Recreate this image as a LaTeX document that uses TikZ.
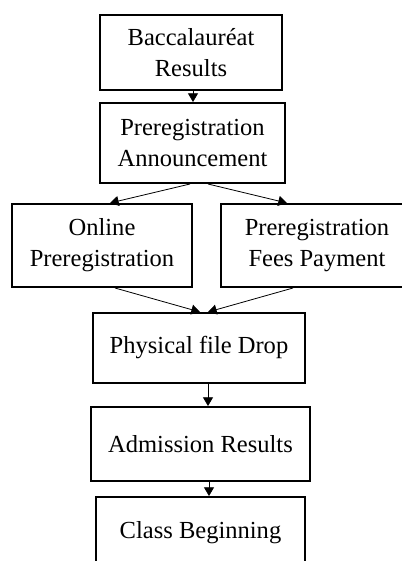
\documentclass[tikz,border=0pt]{standalone}
\usepackage{fontspec}
\setmainfont{Liberation Serif}
\usetikzlibrary{arrows.meta,calc}

\begin{document}
\begin{tikzpicture}[x=0.75pt,y=0.75pt,yscale=-1,xscale=1]
\tikzset{
  stepbox/.style={draw, line width=1.5pt, align=center, inner sep=0pt,
    font=\fontsize{18.4}{23.25}\selectfont},
  flow/.style={line width=0.6pt, -{Triangle[width=7.5pt,length=6.5pt]}}
}
\clip (0,0) rectangle (402,561); %set diagram area 402 x 561

%Shape: Rectangle [id:bac]
\node [stepbox, minimum width=136.5pt, minimum height=56.25pt] (bac) at (191,52.5) {Baccalauréat\\Results};
%Shape: Rectangle [id:ann]
\node [stepbox, minimum width=138.75pt, minimum height=60pt] (ann) at (192.5,143) {Preregistration\\Announcement};
%Shape: Rectangle [id:online]
\node [stepbox, minimum width=135pt, minimum height=62.25pt] (online) at (102,245.5) {Online\\Preregistration};
%Shape: Rectangle [id:fees]
\node [stepbox, minimum width=144pt, minimum height=62.25pt] (fees) at (317,245.5) {Preregistration\\Fees Payment};
%Shape: Rectangle [id:drop]
\node [stepbox, minimum width=159pt, minimum height=52.5pt] (drop) at (199,348) {Physical file Drop};
%Shape: Rectangle [id:adm]
\node [stepbox, minimum width=164.25pt, minimum height=55.5pt] (adm) at (200.5,444) {Admission Results};
%Shape: Rectangle [id:cls]
\node [stepbox, minimum width=156.75pt, minimum height=54pt] (cls) at (200.5,533) {Class Beginning};

%Straight Lines with arrows
\draw [flow] ($(bac.south)+(2,0)$) -- ($(ann.north)+(0.5,0)$);
\draw [flow] ($(ann.south)+(-2.5,0)$) -- ($(online.north)+(8,0)$);
\draw [flow] ($(ann.south)+(15.5,0)$) -- ($(fees.north)+(-30,0)$);
\draw [flow] ($(online.south)+(13,0)$) -- ($(drop.north)+(1,0)$);
\draw [flow] ($(fees.south)+(-24,0)$) -- ($(drop.north)+(9,0)$);
\draw [flow] ($(drop.south)+(9,0)$) -- ($(adm.north)+(7.5,0)$);
\draw [flow] ($(adm.south)+(8.5,0)$) -- ($(cls.north)+(8.5,0)$);

\end{tikzpicture}
\end{document}
